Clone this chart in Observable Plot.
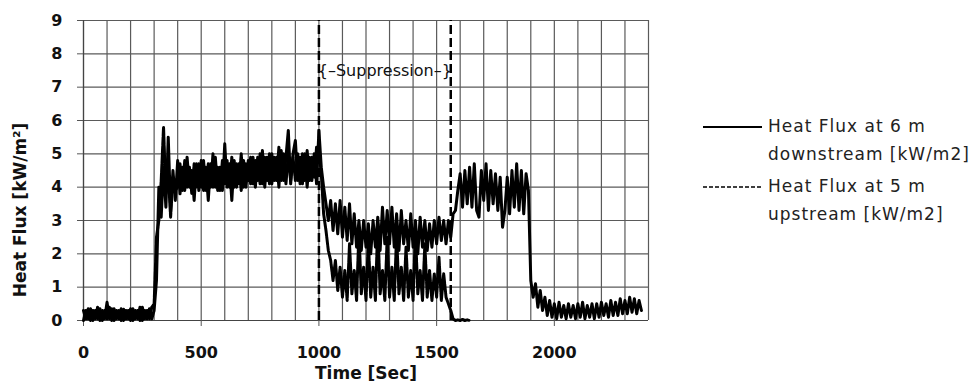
<!DOCTYPE html>
<html><head><meta charset="utf-8">
<script src="https://cdn.jsdelivr.net/npm/d3@7"></script>
<script src="https://cdn.jsdelivr.net/npm/@observablehq/plot@0.6"></script>
<style>
body{margin:0;background:#fff;}
#chart{position:relative;width:980px;height:382px;}
</style>
</head><body><div id="chart"></div>
<script>
// sampling interval of the recorded series (seconds)
const sampleStep = 10;

// Heat flux at 6 m downstream [kW/m2], one value every 10 s from t = 0
const downstream = [
0.3,0.05,0.35,0.0,0.3,0.05,0.4,0.0,0.3,0.05,
0.55,0.05,0.35,0.0,0.3,0.05,0.35,0.0,0.3,0.05,
0.35,0.0,0.3,0.05,0.4,0.0,0.3,0.05,0.35,0.05,
0.3,
1.2,4.0,3.1,4.6,3.4,5.5,3.3,4.5,3.6,
4.8,3.8,4.6,3.9,4.9,4.0,4.5,3.6,4.7,3.9,
4.8,3.9,4.6,3.6,4.7,4.0,4.9,3.9,4.6,3.9,
5.3,4.0,4.7,3.6,4.8,4.0,4.7,3.9,4.8,4.0,
4.8,4.1,4.9,4.0,4.9,4.1,5.1,4.0,4.9,4.1,
5.0,4.2,4.9,4.0,5.1,4.2,4.9,5.7,4.1,5.0,
5.4,4.2,4.9,4.1,5.0,4.0,4.9,4.2,5.0,4.1,
5.7,4.6,4.0,3.5,3.0,3.6,2.7,3.5,2.6,3.6,
2.5,3.4,2.4,3.5,2.3,3.2,2.2,3.0,2.1,3.0,
2.2,2.9,2.0,3.0,2.2,3.1,2.1,3.4,2.3,3.3,
2.3,3.4,2.2,3.2,2.1,3.3,2.3,3.0,2.1,3.2,
2.2,3.0,2.0,3.1,2.2,3.0,2.1,2.9,2.2,3.0,
2.3,3.1,2.4,3.0,2.3,3.0,2.5,3.2,3.3,3.9,
4.4,3.4,4.5,3.5,4.6,3.4,4.7,3.3,3.1,4.5,
3.6,4.7,3.3,4.5,3.5,4.4,3.3,4.3,2.8,3.3,
4.3,3.2,4.5,3.4,4.7,3.3,4.5,3.2,4.4,3.9,
1.2,0.7,1.1,0.4,0.9,0.3,0.7,0.15,0.6,0.1,
0.5,0.05,0.55,0.1,0.45,0.05,0.5,0.1,0.45,0.05,
0.5,0.1,0.55,0.05,0.45,0.1,0.5,0.05,0.5,0.1,
0.55,0.15,0.5,0.1,0.6,0.15,0.55,0.15,0.65,0.2,
0.6,0.2,0.7,0.25,0.65,0.2,0.6,0.3
];

// Heat flux at 5 m upstream [kW/m2], one value every 10 s from t = 0
const upstream = [
0.0,0.3,0.05,0.35,0.0,0.3,0.05,0.35,0.0,0.3,
0.05,0.4,0.0,0.35,0.05,0.3,0.0,0.35,0.05,0.3,
0.0,0.35,0.05,0.3,0.0,0.4,0.05,0.3,0.05,0.4,
0.5,
2.5,3.0,4.2,5.8,3.8,4.4,3.1,4.3,3.9,
4.0,4.7,3.9,4.8,4.0,4.6,3.8,4.7,4.0,4.7,
4.0,4.8,3.9,4.7,4.0,5.0,4.0,4.6,3.9,4.8,
4.1,4.8,4.0,4.9,4.0,4.7,4.1,5.0,4.0,4.7,
4.2,4.9,4.1,4.8,4.2,5.0,4.1,4.9,4.2,5.0,
4.1,4.9,4.2,5.2,4.2,5.0,4.1,5.0,4.2,4.9,
4.2,5.0,4.1,5.0,4.2,5.1,4.2,4.9,4.3,5.2,
5.1,4.4,3.2,2.7,2.1,1.8,1.2,1.8,0.9,1.6,
0.7,1.5,0.6,2.3,0.8,1.5,0.6,2.7,0.8,1.6,
0.6,2.4,0.7,1.6,0.6,2.9,0.8,1.5,0.6,2.5,
0.7,1.6,0.6,2.6,0.8,1.6,0.6,2.2,0.7,1.5,
0.6,2.7,0.8,1.5,0.6,2.3,0.7,1.5,0.6,1.4,
0.7,1.9,0.6,1.4,0.7,0.5,0.3,0.05,0.0,0.02,
0.0,0.03,0.0,0.02,0.0
];

const xDomain = [0, 2400];
const yDomain = [0, 9];
const xTicks = [0, 500, 1000, 1500, 2000];
const xGrid = [0,100,200,300,400,500,600,700,800,900,1000,1100,1200,1300,1400,1500,1600,1700,1800,1900,2000,2100,2200,2300,2400];
const yTicks = [0,1,2,3,4,5,6,7,8,9];
const suppression = [1000, 1560];
const suppressionLabel = "{–Suppression–}";
const xLabel = "Time [Sec]";
const yLabel = "Heat Flux [kW/m²]";
const legendItems = [
  {lines: ["Heat Flux at 6 m", "downstream [kW/m2]"], dash: null},
  {lines: ["Heat Flux at 5 m", "upstream [kW/m2]"], dash: "4,2"}
];

const toRows = s => s.map((v, i) => ({t: i * sampleStep, v}));

const plot = Plot.plot({
  width: 980, height: 382,
  marginLeft: 83, marginRight: 332, marginTop: 20, marginBottom: 62,
  x: {domain: xDomain},
  y: {domain: yDomain},
  style: {fontFamily: "DejaVu Sans", fontSize: "16px", fontWeight: "bold", color: "#111", background: "#fff"},
  marks: [
    Plot.gridX(xGrid, {stroke: "#5a5a5a", strokeOpacity: 1, strokeWidth: 1.2}),
    Plot.gridY(yTicks, {stroke: "#5a5a5a", strokeOpacity: 1, strokeWidth: 1.2}),
    Plot.ruleY([0], {stroke: "#444", strokeWidth: 1.2}),
    Plot.ruleX([0], {stroke: "#444", strokeWidth: 1.2}),
    Plot.axisX(xTicks, {tickSize: 6, tickPadding: 20, label: null, stroke: "#555", tickFormat: d => String(d)}),
    Plot.axisY(yTicks, {tickSize: 6, tickPadding: 15, label: null, stroke: "#555", tickFormat: d => String(d)}),
    Plot.line(toRows(upstream), {x: "t", y: "v", stroke: "#000", strokeWidth: 3, strokeDasharray: "8,1"}),
    Plot.line(toRows(downstream), {x: "t", y: "v", stroke: "#000", strokeWidth: 3}),
    Plot.ruleX(suppression, {y1: 0, y2: 9, stroke: "#000", strokeWidth: 2.5, strokeDasharray: "9,4"}),
    Plot.text([suppressionLabel], {x: (suppression[0] + suppression[1]) / 2, y: 7.5, text: d => d, fontWeight: "normal", fontSize: 16, fill: "#111"}),
    Plot.text([xLabel], {frameAnchor: "bottom", dy: 53, lineAnchor: "middle", text: d => d, fontSize: 17, fontWeight: "bold"})
  ]
});

document.getElementById("chart").appendChild(plot);

const svg = d3.select(plot);
svg.append("text")
  .attr("transform", "translate(21,210) rotate(-90)")
  .attr("text-anchor", "middle").attr("dominant-baseline", "middle")
  .style("font-size", "17px").style("font-weight", "bold").style("fill", "#111")
  .text(yLabel);

const lg = svg.append("g").style("font-weight", "normal").style("font-size", "17px").style("letter-spacing", "1px");
legendItems.forEach((item, i) => {
  const y0 = 127 + i * 60;
  lg.append("line").attr("x1", 703).attr("x2", 762).attr("y1", y0).attr("y2", y0)
    .attr("stroke", "#000").attr("stroke-width", item.dash ? 1.5 : 2.2)
    .attr("stroke-dasharray", item.dash);
  item.lines.forEach((ln, j) => {
    lg.append("text").attr("x", 768).attr("y", y0 + j * 28)
      .attr("text-anchor", "start")
      .attr("dominant-baseline", "middle").style("fill", "#222").text(ln);
  });
});
</script>
</body></html>
